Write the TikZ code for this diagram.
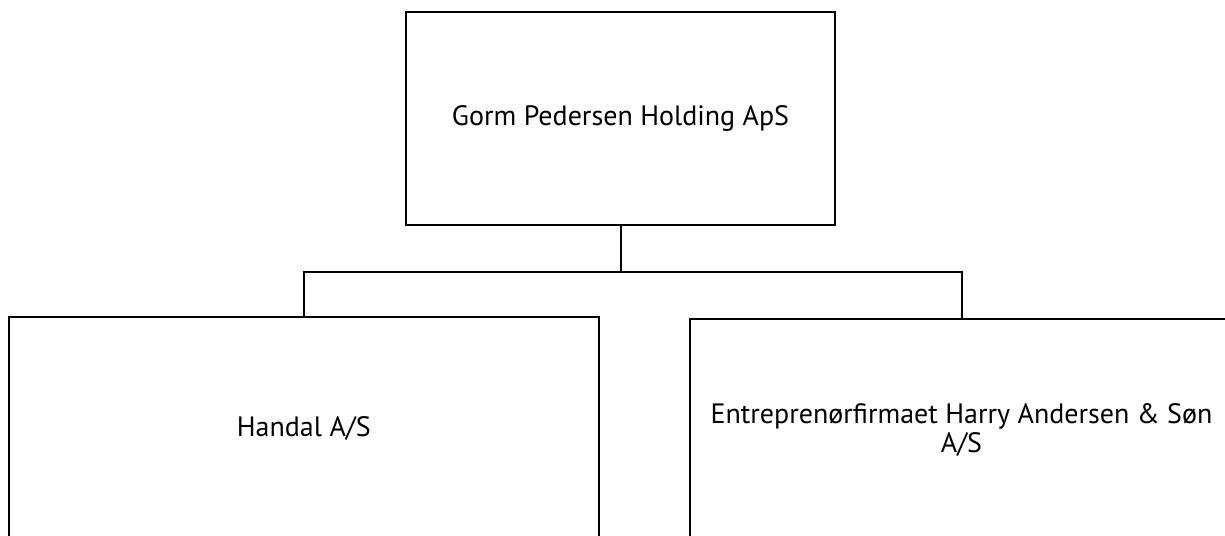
\documentclass[tikz,border=0pt]{standalone}
\usepackage{fontspec}
\setmainfont{PT Sans}
\begin{document}
\begin{tikzpicture}[x=1pt,y=-1pt,
  orgbox/.style={draw=black, line width=2pt, fill=white, align=center, inner sep=0pt,
    font=\fontsize{28}{29}\selectfont},
  link/.style={draw=black, line width=2pt}]
\useasboundingbox (0,0) rectangle (1225,535);
\clip (0,0) rectangle (1225,535);
\node[orgbox, minimum width=429pt, minimum height=213pt] (top) at (620.5,118.5) {Gorm Pedersen Holding ApS};
\node[orgbox, minimum width=590pt, minimum height=224pt] (left) at (303.8,428.5) {Handal A/S};
\node[orgbox, minimum width=544pt, minimum height=222pt] (right) at (961.5,430) {Entreprenørfirmaet Harry Andersen \& Søn\\A/S};
\coordinate (j) at (620.5,272);
\draw[link] (top.south) -- (j);
\draw[link] (j) -| (left.north);
\draw[link] (j) -| (right.north);
\end{tikzpicture}
\end{document}
